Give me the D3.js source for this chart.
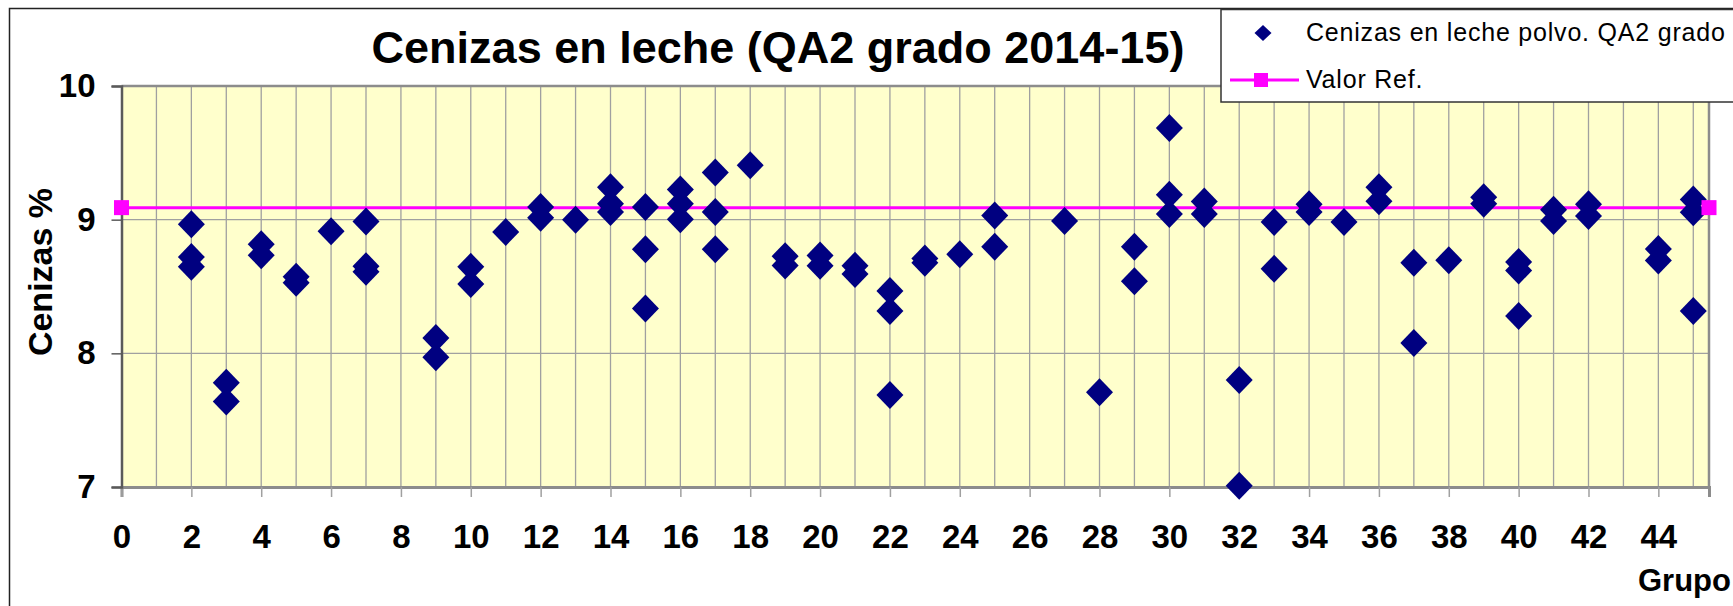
<!DOCTYPE html>
<html>
<head>
<meta charset="utf-8">
<script src="https://cdn.jsdelivr.net/npm/d3@7"></script>
<style>
  body { margin: 0; background: #fff; }
  svg { display: block; font-family: "Liberation Sans", Arial, sans-serif; }
</style>
</head>
<body>
<svg id="chart" width="1733" height="606"></svg>
<script>
// group number and ash % for every lab result
const grupos = [
  2, 2, 2, 3, 3, 4, 4, 5, 5, 6, 7, 7, 7, 9, 9, 10, 10, 11, 12, 12, 13,
  14, 14, 14, 15, 15, 15, 16, 16, 16, 17, 17, 17, 18, 19, 19, 20, 20,
  21, 21, 22, 22, 22, 23, 23, 24, 25, 25, 27, 28, 29, 29, 30, 30, 30,
  31, 31, 32, 32, 33, 33, 34, 34, 35, 36, 36, 37, 37, 38, 39, 39,
  40, 40, 40, 41, 41, 42, 42, 44, 44, 45, 45, 45
];
const cenizas = [
  8.965, 8.72, 8.647, 7.78, 7.64, 8.816, 8.734, 8.573, 8.528, 8.913, 8.987, 8.652, 8.61,
  8.114, 7.97, 8.647, 8.518, 8.908, 9.094, 9.015, 9.0,
  9.243, 9.119, 9.057, 9.094, 8.779, 8.335, 9.225, 9.12, 9.003, 9.352, 9.057, 8.779,
  9.407, 8.727, 8.658, 8.732, 8.655, 8.655, 8.593, 8.466, 8.317, 7.689, 8.709, 8.677,
  8.742, 9.032, 8.798, 8.99, 7.709, 8.798, 8.54, 9.685, 9.187, 9.042,
  9.135, 9.042, 7.801, 7.009, 8.982, 8.632, 9.115, 9.057, 8.982, 9.243, 9.137,
  8.678, 8.077, 8.697, 9.168, 9.12, 8.684, 8.62, 8.28, 9.075, 8.99, 9.115, 9.028,
  8.78, 8.695, 9.15, 9.055, 8.317
];
// reference value line, from the first to the last x
const refX = [0, 45.45];
const refY = [9.09, 9.09];

const xTicks = d3.range(0, 45, 2);
const xGrid = d3.range(1, 46);
const yTicks = [7, 8, 9, 10];

const svg = d3.select("#chart");
const x = d3.scaleLinear().domain([0, 45.45]).range([121.5, 1709]);
const y = d3.scaleLinear().domain([7, 10]).range([487, 86]);

// outer chart frame (only top and left are in view)
svg.append("path")
  .attr("d", "M9.5,606 V8.5 H1733")
  .attr("fill", "none").attr("stroke", "#222").attr("stroke-width", 1.5);

// plot area
svg.append("rect")
  .attr("x", x(0)).attr("y", y(10))
  .attr("width", x(45.45) - x(0)).attr("height", y(7) - y(10))
  .attr("fill", "#ffffcc");

svg.append("g").selectAll("line").data(xGrid).join("line")
  .attr("x1", d => x(d)).attr("x2", d => x(d))
  .attr("y1", y(10)).attr("y2", y(7))
  .attr("stroke", "#a0a0a0").attr("stroke-width", 1.3);

svg.append("g").selectAll("line").data([8, 9]).join("line")
  .attr("x1", x(0)).attr("x2", x(45.45))
  .attr("y1", d => y(d)).attr("y2", d => y(d))
  .attr("stroke", "#a0a0a0").attr("stroke-width", 1.3);

// plot border
svg.append("path")
  .attr("d", `M${x(0)},${y(10)} H${x(45.45)} V${y(7)}`)
  .attr("fill", "none").attr("stroke", "#8c8c8c").attr("stroke-width", 2.5);

// axes
const xAxis = svg.append("g")
  .attr("transform", `translate(0,${y(7)})`)
  .call(d3.axisBottom(x).tickValues(xTicks).tickSize(10).tickPadding(28).tickFormat(d3.format("d")));
xAxis.select(".domain").attr("stroke", "#8c8c8c").attr("stroke-width", 3);
xAxis.selectAll(".tick line").attr("stroke", "#a0a0a0").attr("stroke-width", 1.5);
xAxis.selectAll(".tick text")
  .attr("font-size", 33).attr("font-weight", "bold").attr("fill", "#000")
  .attr("font-family", "Liberation Sans, Arial, sans-serif");

const yAxis = svg.append("g")
  .attr("transform", `translate(${x(0)},0)`)
  .call(d3.axisLeft(y).tickValues(yTicks).tickSize(10).tickPadding(16).tickFormat(d3.format("d")));
yAxis.select(".domain").attr("stroke", "#5a5a5a").attr("stroke-width", 2.5);
yAxis.selectAll(".tick line").attr("stroke", "#5a5a5a").attr("stroke-width", 1.5);
yAxis.selectAll(".tick text")
  .attr("font-size", 33).attr("font-weight", "bold").attr("fill", "#000")
  .attr("font-family", "Liberation Sans, Arial, sans-serif");

// reference line with square markers
const refData = refX.map((d, i) => [d, refY[i]]);
svg.append("path")
  .datum(refData)
  .attr("d", d3.line().x(d => x(d[0])).y(d => y(d[1])))
  .attr("stroke", "#ff00ff").attr("stroke-width", 3).attr("fill", "none");

// diamonds
const diamond = "M0,-14 L13.5,0 L0,14 L-13.5,0 Z";
svg.append("g").selectAll("path").data(grupos).join("path")
  .attr("d", diamond)
  .attr("transform", (d, i) => `translate(${x(d)},${y(cenizas[i])})`)
  .attr("fill", "#000080");

svg.append("g").selectAll("rect").data(refData).join("rect")
  .attr("x", d => x(d[0]) - 7.5).attr("y", d => y(d[1]) - 7.5)
  .attr("width", 15).attr("height", 15)
  .attr("fill", "#ff00ff");

// title and axis titles
svg.append("text")
  .attr("x", 778).attr("y", 63)
  .attr("text-anchor", "middle")
  .attr("font-size", 45).attr("font-weight", "bold")
  .text("Cenizas en leche (QA2 grado 2014-15)");

svg.append("text")
  .attr("transform", "translate(52,272) rotate(-90)")
  .attr("text-anchor", "middle")
  .attr("font-size", 34).attr("font-weight", "bold")
  .text("Cenizas %");

svg.append("text")
  .attr("x", 1638).attr("y", 591)
  .attr("font-size", 31).attr("font-weight", "bold")
  .text("Grupo");

// legend
const legend = svg.append("g");
legend.append("rect")
  .attr("x", 1221).attr("y", 9.5).attr("width", 600).attr("height", 92.5)
  .attr("fill", "#fff").attr("stroke", "#333").attr("stroke-width", 1.5);
legend.append("path")
  .attr("d", "M0,-8 L8.5,0 L0,8 L-8.5,0 Z")
  .attr("transform", "translate(1263,33)")
  .attr("fill", "#000080");
legend.append("text")
  .attr("x", 1306).attr("y", 41)
  .attr("font-size", 25).attr("letter-spacing", 0.8)
  .text("Cenizas en leche polvo. QA2 grado");
legend.append("line")
  .attr("x1", 1230).attr("x2", 1299).attr("y1", 80).attr("y2", 80)
  .attr("stroke", "#ff00ff").attr("stroke-width", 3);
legend.append("rect")
  .attr("x", 1254).attr("y", 73).attr("width", 14).attr("height", 14)
  .attr("fill", "#ff00ff");
legend.append("text")
  .attr("x", 1306).attr("y", 88)
  .attr("font-size", 25).attr("letter-spacing", 0.8)
  .text("Valor Ref.");
</script>
</body>
</html>
